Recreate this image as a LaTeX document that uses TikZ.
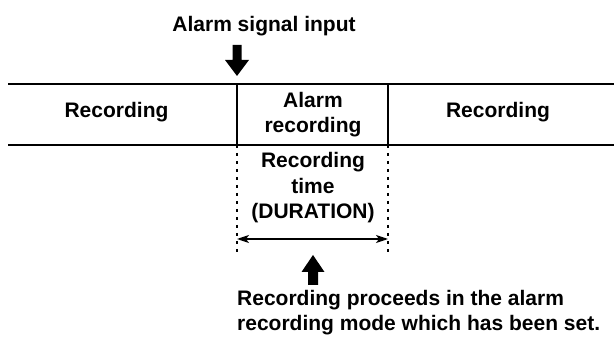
\documentclass[tikz,border=0pt]{standalone}
\usepackage{fontspec}
\setmainfont{Liberation Sans}
\usetikzlibrary{arrows.meta}
\begin{document}
\begin{tikzpicture}[x=1pt,y=-1pt,
  lbl/.style={font=\fontsize{21}{25.5}\selectfont\bfseries, inner sep=0pt, align=center},
  lbll/.style={font=\fontsize{21}{25}\selectfont\bfseries, inner sep=0pt, align=left},
  rule/.style={line width=1.6pt},
  dotline/.style={line width=1.6pt, dash pattern=on 3pt off 5pt},
  dimline/.style={line width=1.4pt, {Stealth[length=12pt,width=8pt,inset=3pt]}-{Stealth[length=12pt,width=8pt,inset=3pt]}},
  bigarrow/.style={fill=black}]
\useasboundingbox (0,0) rectangle (614,339);
% timeline
\coordinate (tl) at (8,84); \coordinate (tr) at (614,84);
\coordinate (bl) at (8,145); \coordinate (br) at (614,145);
\coordinate (a1) at (237,84); \coordinate (a2) at (237,145);
\coordinate (b1) at (388,84); \coordinate (b2) at (388,145);
\coordinate (a3) at (237,253); \coordinate (b3) at (388,253);
\coordinate (da) at (237,239); \coordinate (db) at (388,239);
\draw[rule] (tl) -- (tr);
\draw[rule] (bl) -- (br);
\draw[rule] (a1) -- (a2);
\draw[rule] (b1) -- (b2);
\draw[dotline] (a2) -- (a3);
\draw[dotline] (b2) -- (b3);
\draw[dimline] (da) -- (db);
% labels
\node[lbl, anchor=base] (title) at (264,32) {Alarm signal input};
\node[lbl, anchor=base] (rec1) at (116.5,118) {Recording};
\node[lbl, anchor=base] (rec2) at (498,118) {Recording};
\node[lbl, anchor=base] (alarm) at (313,133) {Alarm\\recording};
\node[lbl, anchor=base] (dur) at (313,219) {Recording\\time\\(DURATION)};
\node[lbll, anchor=base west] (note) at (237,331) {Recording proceeds in the alarm\\recording mode which has been set.};
% block arrows
\coordinate (downtip) at (237,76);
\fill[bigarrow] (downtip) -- ++(-12,-16) -- ++(7.5,0) -- ++(0,-15) -- ++(9,0) -- ++(0,15) -- ++(7.5,0) -- cycle;
\coordinate (uptip) at (313,255);
\fill[bigarrow] (uptip) -- ++(-11.5,17) -- ++(6.5,0) -- ++(0,13) -- ++(10,0) -- ++(0,-13) -- ++(6.5,0) -- cycle;
\end{tikzpicture}
\end{document}
